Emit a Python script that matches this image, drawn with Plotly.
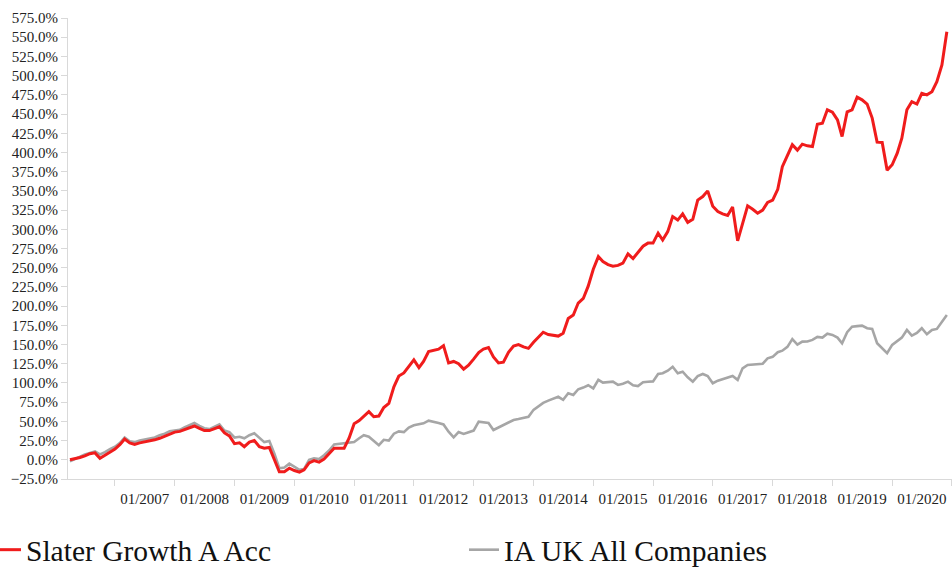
import pandas as pd
import plotly.graph_objects as go

# Monthly observations, Apr 2005 .. Dec 2019 (177 points)
dates = pd.date_range("2005-04-01", periods=177, freq="MS")

slater_growth = [
    0, 1, 3, 5, 8, 9, 2, 6, 10, 14, 20, 27,
    22, 20, 22, 23, 24, 26, 28, 31, 34, 36, 37, 39,
    42, 44, 41, 38, 38, 41, 43, 35, 31, 21, 22, 17,
    23, 25, 17, 15, 16, 0, -15.5, -15.5, -11, -14, -16, -13,
    -4, -1, -3, 1, 8, 15, 15, 15, 28, 47, 51, 56,
    62.6, 56, 57, 68, 73.5, 95, 109, 113, 122, 130, 120, 128,
    141, 142, 144, 148.6, 126, 128, 125, 118, 123, 131, 139.5, 144,
    146, 134, 126, 127, 140, 148, 150, 147, 145, 153, 160, 166,
    163, 162, 161, 164.7, 184, 188.5, 204, 210, 226, 248, 264.5, 258,
    254, 252, 253, 256, 268, 262, 270, 278, 282, 282, 295, 286,
    297, 316.5, 312, 320, 309, 313, 338, 342.6, 350, 330, 323, 320,
    318, 329, 285, 308, 330.5, 326, 321, 325, 335, 338, 352, 381.6,
    397, 410, 403, 410.8, 408.6, 407.7, 436.8, 438, 455.5, 452.5, 442.4, 420.7,
    453, 455.5, 472, 468.5, 463, 444.7, 413.4, 413, 377, 384, 399, 418.6,
    455.5, 466, 463, 477, 475, 479, 492, 514, 557,
]

ia_uk_all = [
    -2, 1, 4, 7, 9, 11, 7, 10, 14, 17, 22, 29,
    24, 23, 25, 26, 27, 29, 32, 34, 37, 38, 39, 42,
    45, 48, 44, 41, 40, 43, 46, 38, 36, 29, 30, 28,
    32, 34.5, 28, 23, 24.5, 8, -11, -10, -5, -9, -13, -12,
    0, 2, 1, 6, 12, 20, 20.6, 21, 21.5, 23, 28, 32,
    30, 25, 19, 26, 25, 34, 37, 36, 42, 45, 46, 47.5,
    51, 50, 48, 46, 36.6, 29.3, 36, 33.6, 36, 38, 49.6, 48.5,
    48, 38.8, 42, 45, 48, 51.8, 53, 55, 56, 65, 70, 74,
    77, 79, 82, 78, 86.6, 84.4, 91.8, 94, 97, 93, 104, 100.4,
    101, 101.7, 97.4, 99, 101.7, 97, 96, 101, 101.5, 102, 111.7, 112.6,
    116, 121, 112.6, 114.7, 107.4, 101.7, 109, 111.7, 109, 99.6, 103, 105,
    107.4, 109, 104, 119, 123.4, 124, 124.7, 125, 132, 134, 140, 142,
    147, 157, 150, 153.8, 154, 156, 160, 159, 164, 162.5, 159, 151.7,
    166, 173.3, 174, 174.6, 171.2, 170.3, 151.7, 145, 138.7, 149.5, 154, 159,
    169, 161.6, 165, 171.2, 163.4, 169, 170.3, 179.8, 188.5,
]

tick_dates = ["2006-01-01", "2007-01-01", "2008-01-01", "2009-01-01", "2010-01-01",
              "2011-01-01", "2012-01-01", "2013-01-01", "2014-01-01", "2015-01-01",
              "2016-01-01", "2017-01-01", "2018-01-01", "2019-01-01", "2020-01-01"]
tick_labels = ["", "01/2007", "01/2008", "01/2009", "01/2010", "01/2011", "01/2012",
               "01/2013", "01/2014", "01/2015", "01/2016", "01/2017", "01/2018",
               "01/2019", "01/2020"]

serif = "Liberation Serif, Times New Roman, serif"

fig = go.Figure()
fig.add_trace(go.Scatter(
    x=dates, y=ia_uk_all, mode="lines", name="IA UK All Companies",
    line=dict(color="#a6a6a6", width=2.6), legend="legend2",
))
fig.add_trace(go.Scatter(
    x=dates, y=slater_growth, mode="lines", name="Slater Growth A Acc",
    line=dict(color="#f01c1c", width=3), legend="legend",
))

W, H = 952, 567
ML, MR, MT, MB = 68, 0, 18, 88
PW, PH = W - ML - MR, H - MT - MB

legend_common = dict(
    orientation="h", xref="paper", yref="paper",
    y=-(550 - (H - MB)) / PH, xanchor="left", yanchor="middle",
    font=dict(family=serif, size=29.5, color="#111111"),
    itemwidth=30, bgcolor="rgba(0,0,0,0)",
)

fig.update_layout(
    width=W, height=H,
    margin=dict(l=ML, r=MR, t=MT, b=MB, autoexpand=False),
    paper_bgcolor="white", plot_bgcolor="white",
    font=dict(family=serif, color="#222222"),
    showlegend=True,
    legend=dict(legend_common, x=(-14 - ML) / PW),
    legend2=dict(legend_common, x=(464 - ML) / PW),
    xaxis=dict(
        range=["2005-03-20", "2020-01-01 12:00"],
        tickmode="array", tickvals=tick_dates, ticktext=tick_labels,
        ticklabelshift=-30,
        showgrid=False, zeroline=False,
        showline=True, linecolor="#d9d9d9", linewidth=1,
        ticks="outside", ticklen=6, tickcolor="#d9d9d9",
        tickfont=dict(family=serif, size=15, color="#222222"),
    ),
    yaxis=dict(
        range=[-25, 575], tick0=0, dtick=25,
        tickformat=".1f", ticksuffix="%",
        showgrid=False, zeroline=False,
        showline=True, linecolor="#d9d9d9", linewidth=1,
        ticks="outside", ticklen=6, tickcolor="#d9d9d9",
        tickfont=dict(family=serif, size=15, color="#222222"),
    ),
)

fig.write_html(
    "out.html",
    config={"displayModeBar": False},
    post_script="document.body.style.margin='0';"
                "document.documentElement.style.overflow='hidden';",
)
